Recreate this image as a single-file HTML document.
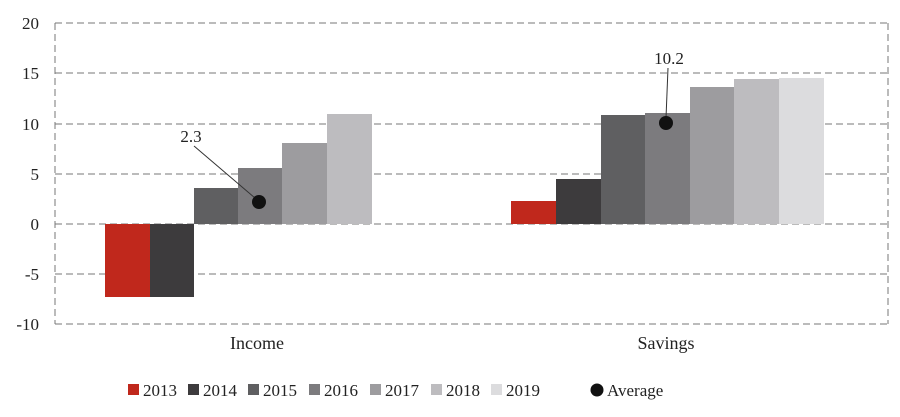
<!DOCTYPE html>
<html><head><style>body{margin:0;background:#fff}</style></head><body>
<svg width="900" height="412" xmlns="http://www.w3.org/2000/svg" font-family="Liberation Serif, serif" fill="#222">
<g stroke="#777" stroke-dasharray="7,4" stroke-width="1">
<line x1="55" y1="23" x2="888" y2="23"/><line x1="55" y1="73" x2="888" y2="73"/>
<line x1="55" y1="124" x2="888" y2="124"/><line x1="55" y1="174" x2="888" y2="174"/>
<line x1="55" y1="224" x2="888" y2="224"/><line x1="55" y1="274" x2="888" y2="274"/>
<line x1="55" y1="324" x2="888" y2="324"/>
<line x1="55" y1="23" x2="55" y2="324"/><line x1="888" y1="23" x2="888" y2="324"/>
</g>
<g font-size="17" text-anchor="end">
<text x="39" y="29">20</text><text x="39" y="79">15</text><text x="39" y="130">10</text>
<text x="39" y="180">5</text><text x="39" y="230">0</text><text x="39" y="280">-5</text><text x="39" y="330">-10</text>
</g>
<rect x="105" y="224" width="45" height="73" fill="#c0281c"/>
<rect x="150" y="224" width="44" height="73" fill="#3d3b3d"/>
<rect x="194" y="188" width="44" height="36" fill="#5f5f61"/>
<rect x="238" y="168" width="44" height="56" fill="#7c7b7e"/>
<rect x="282" y="143" width="45" height="81" fill="#9d9c9f"/>
<rect x="327" y="114" width="45" height="110" fill="#bdbcbf"/>
<rect x="511" y="201" width="45" height="23" fill="#c0281c"/>
<rect x="556" y="179" width="45" height="45" fill="#3d3b3d"/>
<rect x="601" y="115" width="44" height="109" fill="#5f5f61"/>
<rect x="645" y="113" width="45" height="111" fill="#7c7b7e"/>
<rect x="690" y="87" width="44" height="137" fill="#9d9c9f"/>
<rect x="734" y="79" width="45" height="145" fill="#bdbcbf"/>
<rect x="779" y="78" width="45" height="146" fill="#dcdcde"/>
<line x1="194" y1="146" x2="255" y2="198" stroke="#333"/>
<circle cx="259" cy="202" r="7" fill="#111"/>
<text x="191" y="142" font-size="17" text-anchor="middle">2.3</text>
<line x1="668" y1="68" x2="666" y2="118" stroke="#333"/>
<circle cx="666" cy="123" r="7" fill="#111"/>
<text x="669" y="64" font-size="17" text-anchor="middle">10.2</text>
<text x="257" y="349" font-size="18" text-anchor="middle">Income</text>
<text x="666" y="349" font-size="18" text-anchor="middle">Savings</text>
<g font-size="17">
<rect x="128" y="384" width="11" height="11" fill="#c0281c"/><text x="143" y="396">2013</text>
<rect x="188" y="384" width="11" height="11" fill="#3d3b3d"/><text x="203" y="396">2014</text>
<rect x="248" y="384" width="11" height="11" fill="#5f5f61"/><text x="263" y="396">2015</text>
<rect x="309" y="384" width="11" height="11" fill="#7c7b7e"/><text x="324" y="396">2016</text>
<rect x="370" y="384" width="11" height="11" fill="#9d9c9f"/><text x="385" y="396">2017</text>
<rect x="431" y="384" width="11" height="11" fill="#bdbcbf"/><text x="446" y="396">2018</text>
<rect x="491" y="384" width="11" height="11" fill="#dcdcde"/><text x="506" y="396">2019</text>
<circle cx="597" cy="390" r="6.5" fill="#111"/><text x="607" y="396">Average</text>
</g>
</svg>
</body></html>
